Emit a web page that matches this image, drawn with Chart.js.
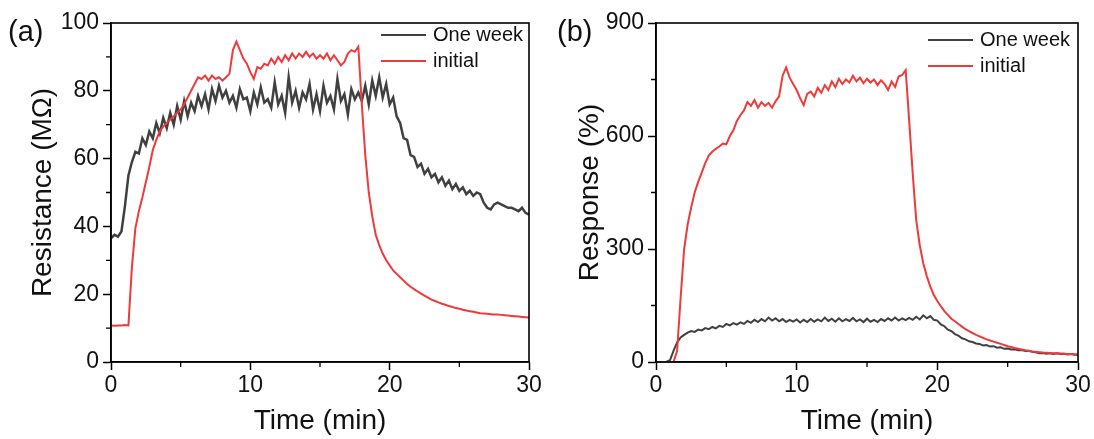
<!DOCTYPE html>
<html lang="en">
<head>
<meta charset="UTF-8">
<title>Resistance and response</title>
<script src="https://cdn.jsdelivr.net/npm/chart.js"></script>
<style>
  body { margin: 0; background: #fff; }
  #wrap { position: relative; width: 1094px; height: 439px; }
  canvas { position: absolute; top: 0; }
  .tag { position: absolute; top: 15px; font: 29px "Liberation Sans", Arial, sans-serif; color: #111; }
</style>
</head>
<body>
<div id="wrap">
  <canvas id="chartA" width="547" height="439" style="left:0"></canvas>
  <canvas id="chartB" width="547" height="439" style="left:547px"></canvas>
  <div class="tag" style="left:8px">(a)</div>
  <div class="tag" style="left:557px">(b)</div>
</div>
<script>
// time axis (min)
const times = [
  0,0.25,0.5,0.75,1,1.25,1.5,1.75,2,2.25,2.5,2.75,3,3.25,3.5,3.75,4,4.25,4.5,4.75,
  5,5.25,5.5,5.75,6,6.25,6.5,6.75,7,7.25,7.5,7.75,8,8.25,8.5,8.75,9,9.25,9.5,9.75,
  10,10.25,10.5,10.75,11,11.25,11.5,11.75,12,12.25,12.5,12.75,13,13.25,13.5,13.75,14,14.25,14.5,14.75,
  15,15.25,15.5,15.75,16,16.25,16.5,16.75,17,17.25,17.5,17.75,18,18.25,18.5,18.75,19,19.25,19.5,19.75,
  20,20.25,20.5,20.75,21,21.25,21.5,21.75,22,22.25,22.5,22.75,23,23.25,23.5,23.75,24,24.25,24.5,24.75,
  25,25.25,25.5,25.75,26,26.25,26.5,26.75,27,27.25,27.5,27.75,28,28.25,28.5,28.75,29,29.25,29.5,29.75,
  30
];

// (a) resistance, MOhm
const resWeek = [
  36.5,37.5,37,38.5,46,55,59,62,61.5,66,64,68,66,70.5,67.5,72,69,73.5,70,75.5,
  71.5,77,72.5,76.5,74,78.5,75.5,79,74.5,80.5,77,81.5,78,80,76.5,78.5,75,80.5,77.5,78,
  74,79.5,76,81,76.5,77.5,75,82.5,76,78.5,73.5,84,76.5,80,75,79.5,77.5,82,74.5,79,
  74,81.5,76.5,78.5,74.5,83.5,77,79,73,80.5,77.5,79.5,77,81.5,76,83,78.5,84,78,82,
  76,78,72.5,70.5,66,65.5,61,60.5,57.5,58.5,55.5,57,54.5,55.5,53,54.5,52,53.5,51,52.5,
  50.5,51.5,49.5,50.5,49,50,49.5,47,45.5,45,46.5,47,46.5,46,45.5,45.5,45,44.5,45.5,44,
  43.5
];
const resInit = [
  10.8,10.7,10.8,10.8,10.9,10.8,28,39.5,44.5,48.5,53,57.5,62.5,65.5,68,69.5,70.5,71.5,72.5,73.5,
  74.5,76,78,80,82,84,83.5,84.5,83,84.5,83.5,84,83,84,85,92,94.5,92,89.5,88,
  85.5,83.5,87,86.5,88,87.5,89.5,88,90,88.5,90.5,89,91,89.5,91,90,91.5,90,91,89.5,
  90.5,89.5,91,89,90.5,89,87.5,88.5,91,92,91.5,93,76,61,50,43,37.5,34.5,32,30,
  28.5,27,26,25,24,23,22.2,21.5,20.8,20.2,19.6,19,18.4,18,17.6,17.2,16.9,16.5,16.2,15.9,
  15.7,15.4,15.2,15,14.8,14.6,14.4,14.3,14.2,14.1,14,14,13.9,13.8,13.7,13.6,13.5,13.4,13.3,13.2,
  13.1
];

// (b) response, %
const respWeek = [
  0,0,0,1,5,30,52,65,72,78,82,80,86,84,90,87,93,89,96,93,
  101,97,103,99,105,101,109,104,112,106,114,108,118,110,116,108,114,106,112,107,
  113,105,112,106,114,107,113,108,118,109,115,107,116,108,114,109,117,108,113,106,
  115,107,112,106,114,109,116,110,118,110,116,111,117,112,120,113,124,116,122,112,
  110,100,95,86,82,74,70,63,60,55,53,49,48,44,45,41,42,38,39,35,
  36,33,34,31,32,29,30,27,26,23,24,22,23,21,23,21,22,20,21,19,
  19
];
const respInit = [
  0,0,0,0,0,0,30,170,300,365,410,450,478,503,528,548,558,566,572,580,
  578,600,615,640,655,668,690,680,695,675,690,680,688,675,692,705,760,782,755,738,
  722,700,682,712,718,705,728,715,735,722,745,730,752,738,750,742,760,745,755,740,
  752,742,750,735,748,738,722,745,730,758,762,775,640,500,376,310,262,228,200,178,
  162,148,135,125,115,108,101,94,87,82,77,72,68,64,60,57,54,51,48,45,
  42,40,37,35,33,31,29.5,28,27,26,25,24.5,24,23.5,23,22.5,22,21.5,21,20.5,
  20
];

const seriesNames = ['One week', 'initial'];
const GRAY = '#404040';
const RED = '#ee3a3a';
const FONT = '"Liberation Sans", Arial, sans-serif';

function pts(vals) {
  return vals.map((v, i) => ({ x: times[i], y: v }));
}

// box around the plot, minor ticks, legend inside the plot
const boxPlugin = {
  id: 'boxPlugin',
  afterDraw(chart, args, opts) {
    const ctx = chart.ctx;
    const a = chart.chartArea;
    const xs = chart.scales.x, ys = chart.scales.y;
    ctx.save();
    ctx.strokeStyle = '#000';
    ctx.lineWidth = 1.6;
    ctx.strokeRect(a.left, a.top, a.right - a.left, a.bottom - a.top);

    ctx.lineWidth = 1.3;
    ctx.beginPath();
    for (let i = 0; i < xs.ticks.length - 1; i++) {
      const px = xs.getPixelForValue((xs.ticks[i].value + xs.ticks[i + 1].value) / 2);
      ctx.moveTo(px, a.bottom);
      ctx.lineTo(px, a.bottom + 5);
    }
    for (let i = 0; i < ys.ticks.length - 1; i++) {
      const py = ys.getPixelForValue((ys.ticks[i].value + ys.ticks[i + 1].value) / 2);
      ctx.moveTo(a.left, py);
      ctx.lineTo(a.left - 5, py);
    }
    ctx.stroke();

    ctx.font = '20px ' + FONT;
    ctx.textBaseline = 'middle';
    chart.data.datasets.forEach((ds, i) => {
      const y = opts.y + i * 26;
      ctx.strokeStyle = ds.borderColor;
      ctx.lineWidth = 2;
      ctx.beginPath();
      ctx.moveTo(opts.x, y);
      ctx.lineTo(opts.x + 45, y);
      ctx.stroke();
      ctx.fillStyle = '#111';
      ctx.fillText(ds.label, opts.x + 52, y);
    });
    ctx.restore();
  }
};

function makeChart(id, week, init, yMax, yStep, yTitle, axisW, padRight, legendY, weekWidth) {
  return new Chart(document.getElementById(id), {
    type: 'line',
    data: {
      datasets: [
        { label: seriesNames[0], data: pts(week), borderColor: GRAY, borderWidth: weekWidth, order: 1 },
        { label: seriesNames[1], data: pts(init), borderColor: RED, borderWidth: 2, order: 0 }
      ]
    },
    options: {
      responsive: false,
      animation: false,
      devicePixelRatio: 1,
      elements: { point: { radius: 0 }, line: { tension: 0 } },
      layout: { padding: { top: 23, right: padRight, left: 0, bottom: 0 } },
      plugins: {
        legend: { display: false },
        tooltip: { enabled: false },
        boxPlugin: { x: 381, y: legendY }
      },
      scales: {
        x: {
          type: 'linear',
          min: 0, max: 30,
          ticks: { stepSize: 10, color: '#111', padding: 2, font: { size: 23, family: FONT } },
          grid: { drawOnChartArea: false, tickLength: 8, tickColor: '#000', tickWidth: 1.5 },
          border: { color: '#000', width: 1.6 },
          title: { display: true, text: 'Time (min)', color: '#111', padding: { top: 0, bottom: 1 }, font: { size: 28, family: FONT } },
          afterFit(s) { s.height = 77; }
        },
        y: {
          min: 0, max: yMax,
          ticks: { stepSize: yStep, color: '#111', padding: 4, font: { size: 23, family: FONT } },
          grid: { drawOnChartArea: false, tickLength: 8, tickColor: '#000', tickWidth: 1.5 },
          border: { color: '#000', width: 1.6 },
          title: { display: true, text: yTitle, color: '#111', padding: { top: 26, bottom: 0 }, font: { size: 28, family: FONT } },
          afterFit(s) { s.width = axisW; }
        }
      }
    },
    plugins: [boxPlugin]
  });
}

makeChart('chartA', resWeek, resInit, 100, 20, 'Resistance (MΩ)', 111, 18, 35, 2.5);
makeChart('chartB', respWeek, respInit, 900, 300, 'Response (%)', 109, 16, 40, 2);
</script>
</body>
</html>
